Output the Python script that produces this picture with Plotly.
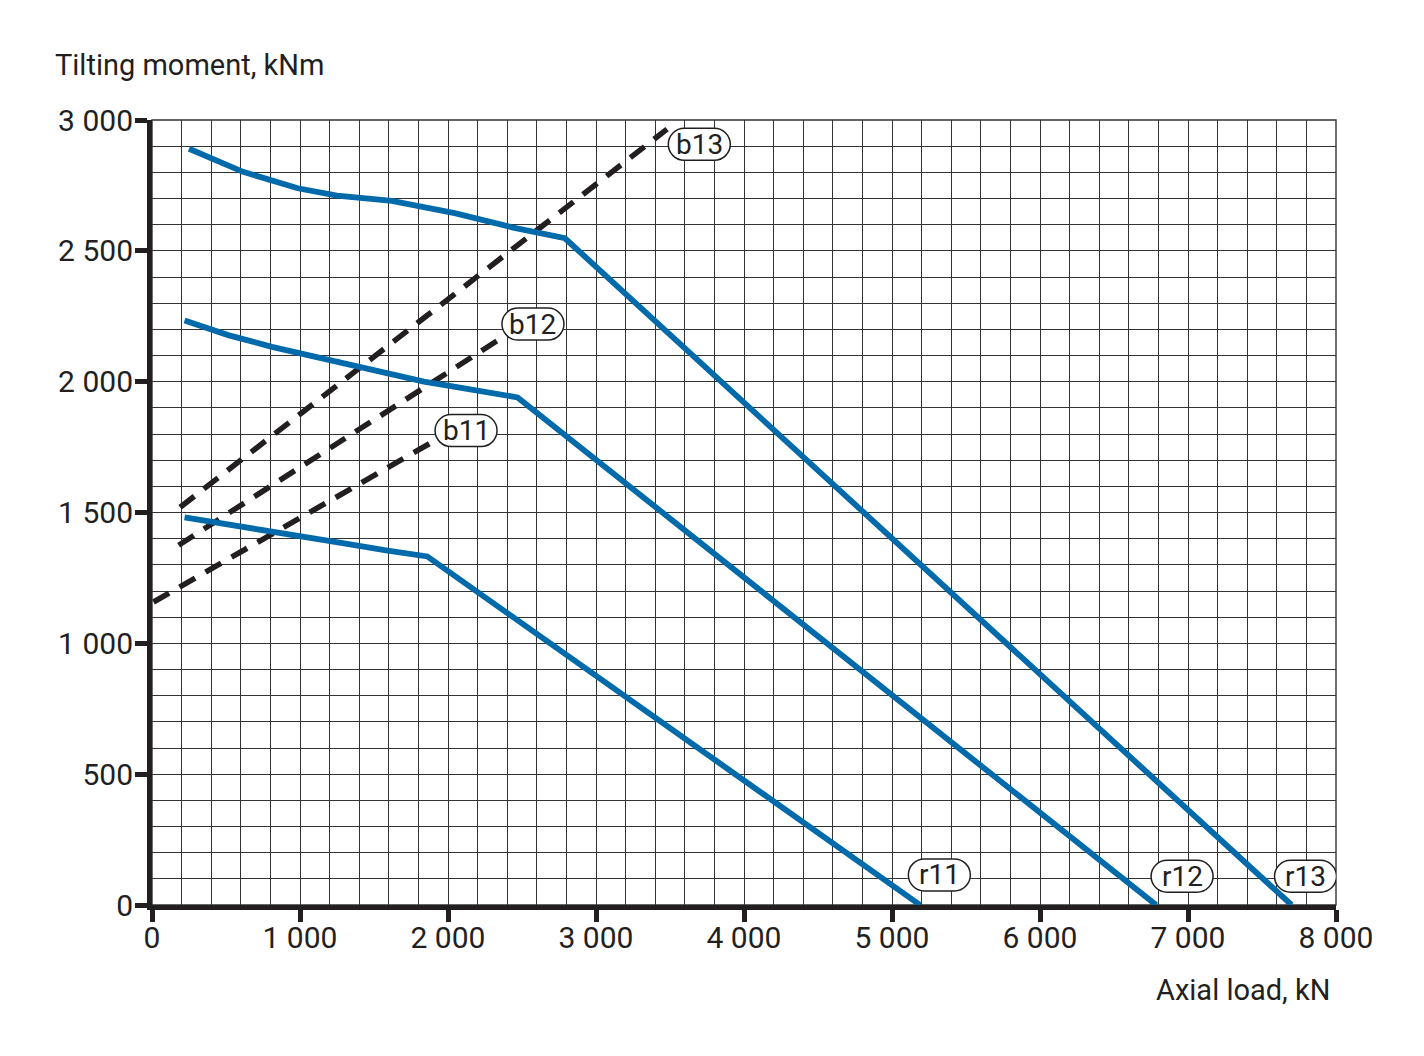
import plotly.graph_objects as go

# curve data (axial load kN, tilting moment kNm)
r11_x = [220, 587, 922, 1257, 1592, 1860, 5190]
r11_y = [1481, 1449, 1418, 1386, 1354, 1332, 0]
r12_x = [220, 520, 810, 1145, 1480, 1837, 2040, 2470, 6785]
r12_y = [2234, 2177, 2133, 2089, 2044, 2000, 1981, 1940, 0]
r13_x = [250, 615, 985, 1250, 1620, 2045, 2440, 2790, 7700]
r13_y = [2890, 2802, 2739, 2711, 2691, 2644, 2589, 2548, 0]

# dashed limit lines
b11_x = [10, 1890]
b11_y = [1158, 1768]
b12_x = [180, 2370]
b12_y = [1375, 2170]
b13_x = [190, 3480]
b13_y = [1520, 2965]

# label names and where their tags sit
label_names = ["b13", "b12", "b11", "r11", "r12", "r13"]
label_x = [3698, 2574, 2122, 5320, 6960, 7794]
label_y = [2907, 2220, 1813, 115, 110, 110]

x_ticks = [0, 1000, 2000, 3000, 4000, 5000, 6000, 7000, 8000]
x_ticktext = ["0", "1 000", "2 000", "3 000", "4 000", "5 000", "6 000", "7 000", "8 000"]
y_ticks = [0, 500, 1000, 1500, 2000, 2500, 3000]
y_ticktext = ["0", "500", "1 000", "1 500", "2 000", "2 500", "3 000"]

BLUE = "#006aab"
DARK = "#231f20"
GRID = "#333333"
FONT = "Roboto"


def pill_path(w, h):
    # stadium shape around (0,0) in pixels
    r = h / 2
    a = w / 2 - r
    k = r * 0.55
    return (f"M {-a},{-r} L {a},{-r} C {a + k},{-r} {a + r},{-k} {a + r},0 "
            f"C {a + r},{k} {a + k},{r} {a},{r} L {-a},{r} "
            f"C {-a - k},{r} {-a - r},{k} {-a - r},0 "
            f"C {-a - r},{-k} {-a - k},{-r} {-a},{-r} Z")


fig = go.Figure()

# thin frame so the top and right edges of the grid are closed
fig.add_shape(type="rect", xref="paper", yref="paper", x0=0, x1=1, y0=0, y1=1,
              line=dict(color=GRID, width=1.4), layer="below")

for xs, ys in [(b11_x, b11_y), (b12_x, b12_y), (b13_x, b13_y)]:
    fig.add_trace(go.Scatter(x=xs, y=ys, mode="lines",
                             line=dict(color=DARK, width=5.5, dash="18px,12px"),
                             showlegend=False, hoverinfo="skip"))

for xs, ys in [(r11_x, r11_y), (r12_x, r12_y), (r13_x, r13_y)]:
    fig.add_trace(go.Scatter(x=xs, y=ys, mode="lines",
                             line=dict(color=BLUE, width=5.8),
                             showlegend=False, hoverinfo="skip"))

# rounded tags with the curve names
for name, lx, ly in zip(label_names, label_x, label_y):
    fig.add_shape(type="path", xref="x", yref="y",
                  xsizemode="pixel", ysizemode="pixel",
                  xanchor=lx, yanchor=ly,
                  path=pill_path(62, 32),
                  fillcolor="white", line=dict(color=DARK, width=1.5),
                  layer="above")
    fig.add_annotation(x=lx, y=ly, xref="x", yref="y", text=name,
                       showarrow=False, font=dict(family=FONT, size=28, color=DARK))

fig.add_annotation(x=-0.084, y=1.07, xref="paper", yref="paper",
                   text="Tilting moment, kNm", showarrow=False,
                   xanchor="left", yanchor="middle",
                   font=dict(family=FONT, size=29, color=DARK))
fig.add_annotation(x=0.9965, y=-0.108, xref="paper", yref="paper",
                   text="Axial load, kN", showarrow=False,
                   xanchor="right", yanchor="middle",
                   font=dict(family=FONT, size=29, color=DARK))

fig.update_xaxes(range=[0, 8000], tickvals=x_ticks, ticktext=x_ticktext,
                 ticks="outside", ticklen=12, tickwidth=5, tickcolor=DARK,
                 ticklabelstandoff=-10,
                 showline=True, linewidth=5, linecolor=DARK,
                 showgrid=True, gridcolor=GRID, gridwidth=1.4, zeroline=False,
                 minor=dict(dtick=200, showgrid=True, gridcolor=GRID, gridwidth=1.4),
                 tickfont=dict(family=FONT, size=30, color=DARK), fixedrange=True)
fig.update_yaxes(range=[0, 3000], tickvals=y_ticks, ticktext=y_ticktext,
                 ticks="outside", ticklen=12, tickwidth=5, tickcolor=DARK,
                 ticklabelstandoff=-4,
                 showline=True, linewidth=5, linecolor=DARK,
                 showgrid=True, gridcolor=GRID, gridwidth=1.4, zeroline=False,
                 minor=dict(dtick=100, showgrid=True, gridcolor=GRID, gridwidth=1.4),
                 tickfont=dict(family=FONT, size=30, color=DARK), fixedrange=True)

# the page has an 8px body margin, so the figure is a bit smaller and shifted
fig.update_layout(width=1408, height=1040,
                  margin=dict(l=144, r=80, t=112, b=143),
                  plot_bgcolor="white", paper_bgcolor="white",
                  showlegend=False)

fig.write_html("out.html")
